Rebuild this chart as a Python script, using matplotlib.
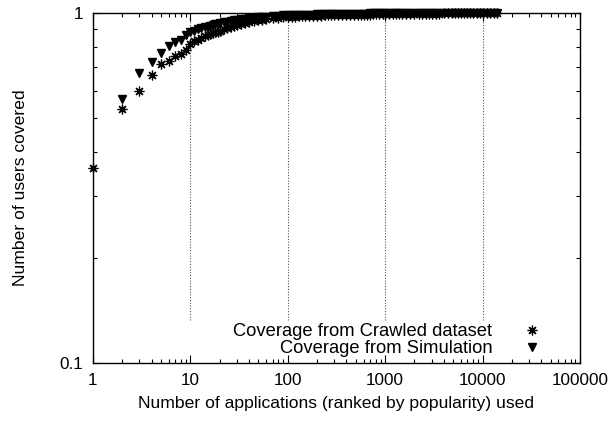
import numpy as np
import matplotlib
matplotlib.use("Agg")
import matplotlib.pyplot as plt
from matplotlib.ticker import FixedLocator, NullFormatter, LogLocator

plt.rcParams['font.family'] = ['Liberation Sans', 'DejaVu Sans']

# ranks (x)
ranks = [1, 2, 3, 4, 5, 6, 7, 8, 9, 10, 11, 12, 13, 14, 15, 16, 17, 18, 19, 20,
         22, 24, 26, 28, 30, 33, 36, 40, 45, 50, 55, 60, 70, 80, 90, 100,
         110, 120, 130, 140, 150, 165, 180, 200, 220, 240, 260, 280, 300, 330,
         360, 400, 440, 480, 520, 560, 600, 650, 700, 750, 800, 870, 940, 1000,
         1100, 1200, 1300, 1400, 1500, 1650, 1800, 2000, 2200, 2400, 2600, 2800,
         3000, 3300, 3600, 4000, 4400, 4800, 5200, 5600, 6000, 6500, 7000, 7500,
         8000, 8700, 9400, 10000, 11000, 12000, 13000, 14000]

crawled = [0.36, 0.533, 0.598, 0.664, 0.713, 0.729, 0.752, 0.765, 0.786, 0.815,
           0.83, 0.84, 0.85, 0.86, 0.865, 0.87, 0.875, 0.88, 0.885, 0.89,
           0.898, 0.905, 0.912, 0.918, 0.923, 0.93, 0.936, 0.942, 0.948, 0.953, 0.957, 0.96,
           0.965, 0.969, 0.972, 0.974,
           0.975, 0.977, 0.978, 0.979, 0.980, 0.980, 0.981, 0.983, 0.983, 0.984, 0.985, 0.985,
           0.986, 0.986, 0.987, 0.988, 0.988, 0.989, 0.989, 0.989, 0.990, 0.990, 0.990, 0.991,
           0.991, 0.991, 0.992, 0.992,
           0.992, 0.993, 0.993, 0.993, 0.993, 0.994, 0.994, 0.994, 0.995, 0.995, 0.995, 0.995,
           0.996, 0.996, 0.996, 0.997, 0.997, 0.997, 0.998, 0.998, 0.998, 0.998, 0.999, 0.999,
           0.999, 0.999, 0.999, 1.0, 1.0, 1.0, 1.0, 1.0]

simulation = [np.nan, 0.569, 0.674, 0.726, 0.770, 0.805, 0.825, 0.839, 0.863, 0.88,
              0.89, 0.898, 0.905, 0.91, 0.915, 0.92, 0.924, 0.928, 0.931, 0.935,
              0.94, 0.945, 0.949, 0.953, 0.956, 0.96, 0.963, 0.966, 0.97, 0.973, 0.975, 0.977,
              0.98, 0.982, 0.984, 0.985,
              0.986, 0.987, 0.988, 0.988, 0.989, 0.989, 0.990, 0.991, 0.991, 0.992, 0.992, 0.993,
              0.993, 0.993, 0.994, 0.995, 0.995, 0.995, 0.996, 0.996, 0.996, 0.996, 0.997, 0.997,
              0.997, 0.997, 0.998, 0.998,
              0.998, 0.998, 0.998, 0.998, 0.998, 0.999, 0.999, 0.999, 0.999, 0.999, 0.999, 0.999,
              0.999, 1.0, 1.0, 1.0, 1.0, 1.0, 1.0, 1.0, 1.0, 1.0, 1.0, 1.0,
              1.0, 1.0, 1.0, 1.0, 1.0, 1.0, 1.0, 1.0]

x_ticks = [1, 10, 100, 1000, 10000, 100000]
x_labels = ["1", "10", "100", "1000", "10000", "100000"]
y_ticks = [0.1, 1]
y_labels = ["0.1", "1"]
grid_x = [10, 100, 1000, 10000]

fig = plt.figure(figsize=(6.15, 4.24), dpi=100)
ax = fig.add_axes([0.1512, 0.1439, 0.7918, 0.8254])

ax.set_xscale('log')
ax.set_yscale('log')
ax.set_xlim(1, 100000)
ax.set_ylim(0.1, 1)

# grid lines stop above the key
ax.vlines(grid_x, 0.133, 1, colors='#555555', linestyles=(0, (1, 1.5)), linewidth=0.8, zorder=1)

ax.plot(ranks, crawled, linestyle='none', marker=(8, 2, 0), markersize=7,
        markeredgewidth=0.9, color='black', clip_on=False, label='Coverage from Crawled dataset', zorder=3)
ax.plot(ranks, simulation, linestyle='none', marker='v', markersize=5.5,
        color='black', clip_on=False, label='Coverage from Simulation', zorder=3)

ax.xaxis.set_major_locator(FixedLocator(x_ticks))
ax.set_xticklabels(x_labels)
ax.xaxis.set_minor_locator(LogLocator(base=10, subs=np.arange(2, 10)))
ax.xaxis.set_minor_formatter(NullFormatter())
ax.yaxis.set_major_locator(FixedLocator(y_ticks))
ax.set_yticklabels(y_labels)
ax.yaxis.set_minor_locator(LogLocator(base=10, subs=np.arange(2, 10)))
ax.yaxis.set_minor_formatter(NullFormatter())

ax.tick_params(which='both', direction='in', top=True, right=True, labelsize=12.3, width=0.8)
ax.tick_params(which='major', length=6, pad=7)
ax.tick_params(which='minor', length=3)
for s in ax.spines.values():
    s.set_linewidth(1.0)

ax.set_xlabel('Number of applications (ranked by popularity) used', fontsize=12.6, labelpad=6)
ax.set_ylabel('Number of users covered', fontsize=12.6, labelpad=23)

ax.legend(loc='lower right', bbox_to_anchor=(0.92, 0.017), markerfirst=False, frameon=False,
          fontsize=13.2, handlelength=1.0, handleheight=0.5, handletextpad=1.65,
          labelspacing=0.02, borderaxespad=0, borderpad=0)

fig.savefig('out.png', dpi=100)
